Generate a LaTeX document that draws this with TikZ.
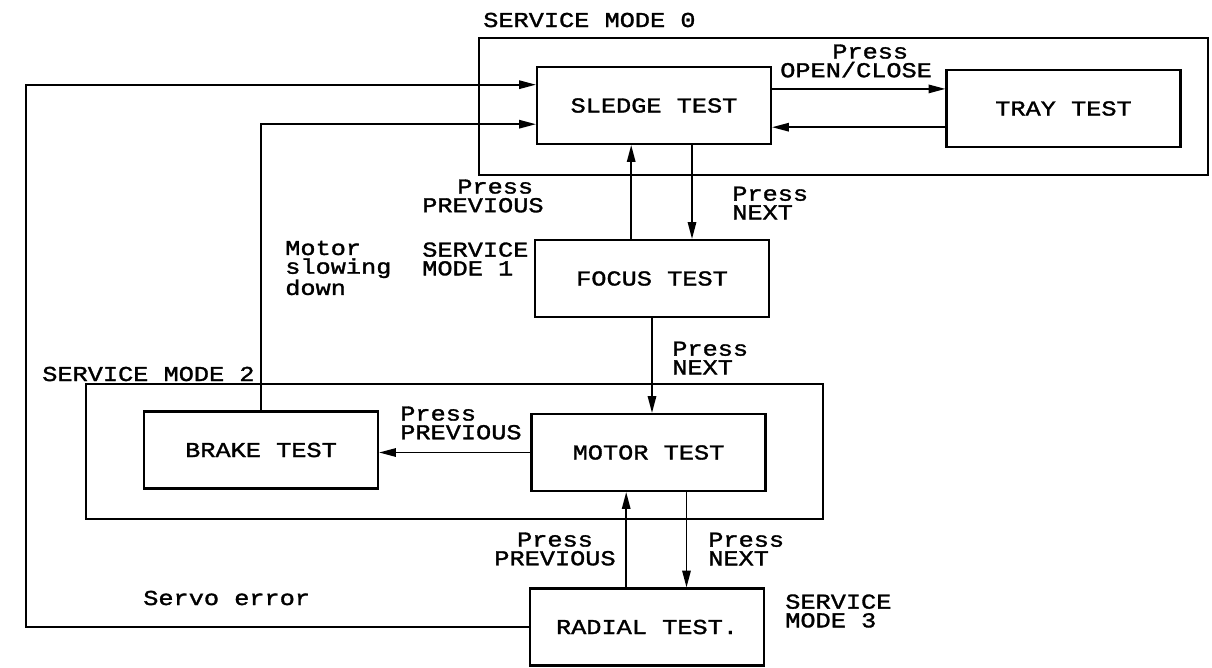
\documentclass[tikz,border=0pt]{standalone}
\usepackage{fontspec}
\newfontfamily\plotfont{Liberation Mono}[FakeStretch=1.19, FakeBold=1.5]
\usetikzlibrary{arrows.meta}

\begin{document}
\begin{tikzpicture}[
	x=0.025cm, y=-0.025cm,
	font=\plotfont\fontsize{15.1}{13.3}\selectfont,
	blocco/.style={draw=black, line width=1.5pt, inner sep=0pt,
		minimum width=5.85cm, minimum height=1.925cm},
	riquadro/.style={draw=black, line width=1.5pt},
	filo/.style={line width=1.2pt, black},
	freccia/.style={filo, -{Triangle[length=12pt,width=6pt]}},
	scritta/.style={inner sep=0pt, align=left, anchor=west},
	scrittac/.style={inner sep=0pt, align=center},
	]
	\def\sx{0.52cm}
	\def\dx{0.95cm}
	\useasboundingbox (0,0) rectangle (1212,667);
	
	%% -- gruppi dei modi di servizio --
	\draw[riquadro](479,38) rectangle (1208,175);
	\draw[riquadro](86,384) rectangle (823,519);
	\node[scritta] (modo0) at (483,20) {SERVICE MODE 0};
	\node[scritta] (modo1) at (422,259) {SERVICE\\MODE 1};
	\node[scritta] (modo2) at (42,374) {SERVICE MODE 2};
	\node[scritta] (modo3) at (785,611) {SERVICE\\MODE 3};
	
	%% -- prove --
	\node[blocco] (sledge) at (654,105.5) {SLEDGE TEST};
	\node[blocco] (tray) at (1063.5,108.5) {TRAY TEST};
	\node[blocco] (focus) at (652,278.5) {FOCUS TEST};
	\node[blocco] (brake) at (261,450) {BRAKE TEST};
	\node[blocco] (motor) at (648.5,452.5) {MOTOR TEST};
	\node[blocco] (radial) at (647,627) {RADIAL TEST.};
	
	%% -- passaggi --
	\draw[freccia](sledge.8)--(sledge.8 -| tray.west);
	\draw[freccia](tray.189)--(tray.189 -| sledge.east);
	\draw[freccia]([xshift=-\sx]focus.north)--([xshift=-\sx]focus.north |- sledge.south);
	\draw[freccia]([xshift=\dx]sledge.south)--([xshift=\dx]sledge.south |- focus.north);
	\draw[freccia](focus.south)--(focus.south |- motor.north);
	\draw[freccia](motor.west)--(motor.west -| brake.east);
	\draw[freccia]([xshift=-\sx]radial.north)--([xshift=-\sx]radial.north |- motor.south);
	\draw[freccia]([xshift=\dx]motor.south)--([xshift=\dx]motor.south |- radial.north);
	\draw[freccia](brake.north) |- (sledge.189);
	\draw[freccia](radial.west)--++(-503,0) |- (sledge.170);
	
	%% -- tasti --
	\node[scritta] (apri) at (780,61) {\hspace*{2.45em}Press\\OPEN/CLOSE};
	\node[scritta] (prec0) at (422,196) {\hspace*{1.65em}Press\\PREVIOUS};
	\node[scritta] (succ0) at (732,203) {Press\\NEXT};
	\node[scritta] (succ1) at (672,358) {Press\\NEXT};
	\node[scritta] (prec2) at (400,423) {Press\\PREVIOUS};
	\node[scrittac] (prec3) at (555,549) {Press\\PREVIOUS};
	\node[scritta] (succ2) at (708,549) {Press\\NEXT};
	\node[scritta] (rallenta) at (285,268) {Motor\\slowing\\down};
	\node[scritta] (servo) at (143,598) {Servo error};
	
\end{tikzpicture}
\end{document}
